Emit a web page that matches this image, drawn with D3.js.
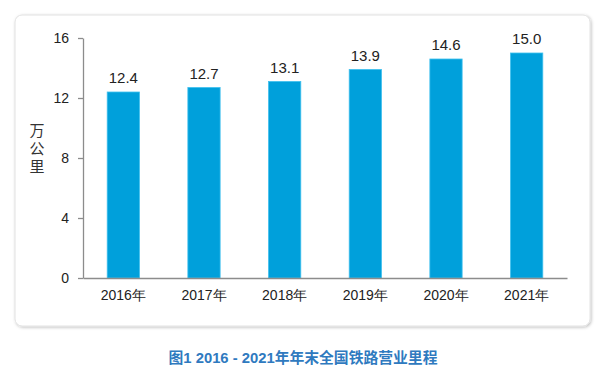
<!DOCTYPE html>
<html><head><meta charset="utf-8">
<script src="https://cdn.jsdelivr.net/npm/d3@7/dist/d3.min.js"></script>
<style>body{margin:0;background:#fff;}svg{display:block;font-family:Arial,"Liberation Sans","Noto Sans CJK SC",sans-serif;}</style>
</head><body>
<svg id="c" width="600" height="374"></svg>
<script>
const categories = ["2016年","2017年","2018年","2019年","2020年","2021年"];
const values = [12.4, 12.7, 13.1, 13.9, 14.6, 15.0];
const yTicks = [0, 4, 8, 12, 16];
const yLabel = ["万","公","里"];
const title = "图1 2016 - 2021年年末全国铁路营业里程";

const svg = d3.select("#c");
const defs = svg.append("defs");
const f = defs.append("filter").attr("id","sh").attr("x","-5%").attr("y","-5%").attr("width","110%").attr("height","110%");
f.append("feDropShadow").attr("dx",1).attr("dy",1).attr("stdDeviation",1.5).attr("flood-color","#000").attr("flood-opacity",0.25);

svg.append("rect").attr("x",15).attr("y",15).attr("width",575).attr("height",311).attr("rx",7)
  .attr("fill","#fff").attr("stroke","#e2e2e2").attr("filter","url(#sh)");

const x = d3.scaleBand().domain(categories).range([83,567]).paddingInner(0.6).paddingOuter(0.3);
const y = d3.scaleLinear().domain([0,16]).range([278,38]);

const gy = svg.append("g").attr("transform","translate(83,0)")
  .call(d3.axisLeft(y).tickValues(yTicks).tickSize(5).tickSizeOuter(0).tickPadding(9));
gy.select(".domain").attr("stroke","#8c8c8c").attr("stroke-width",1.3);
gy.selectAll(".tick line").attr("stroke","#8c8c8c").attr("stroke-width",1.3);
gy.selectAll(".tick text").attr("font-size",14).attr("fill","#222");

svg.append("g").selectAll("rect").data(values).join("rect")
  .attr("x",(d,i)=>x(categories[i])).attr("width",x.bandwidth())
  .attr("y",d=>y(d)).attr("height",d=>y(0)-y(d))
  .attr("fill","#00a0db").attr("stroke","#3fc0ee").attr("stroke-width",0.8);

const gx = svg.append("g").attr("transform","translate(0,278)")
  .call(d3.axisBottom(x).tickSize(0).tickPadding(12));
gx.select(".domain").attr("stroke","#8c8c8c").attr("stroke-width",1.3);
gx.selectAll(".tick text").attr("font-size",14).attr("fill","#222");

svg.append("g").selectAll("text").data(values).join("text")
  .attr("x",(d,i)=>x(categories[i])+x.bandwidth()/2).attr("y",d=>y(d)-9)
  .attr("text-anchor","middle").attr("font-size",15).attr("fill","#222")
  .text(d=>d.toFixed(1));

svg.append("g").selectAll("text").data(yLabel).join("text")
  .attr("x",37).attr("y",(d,i)=>136+i*18).attr("text-anchor","middle")
  .attr("font-size",15).attr("fill","#333").text(d=>d);

svg.append("text").attr("x",303).attr("y",363).attr("text-anchor","middle")
  .attr("font-size",14.8).attr("font-weight","bold").attr("fill","#2f7abf").text(title);
</script>
</body></html>
